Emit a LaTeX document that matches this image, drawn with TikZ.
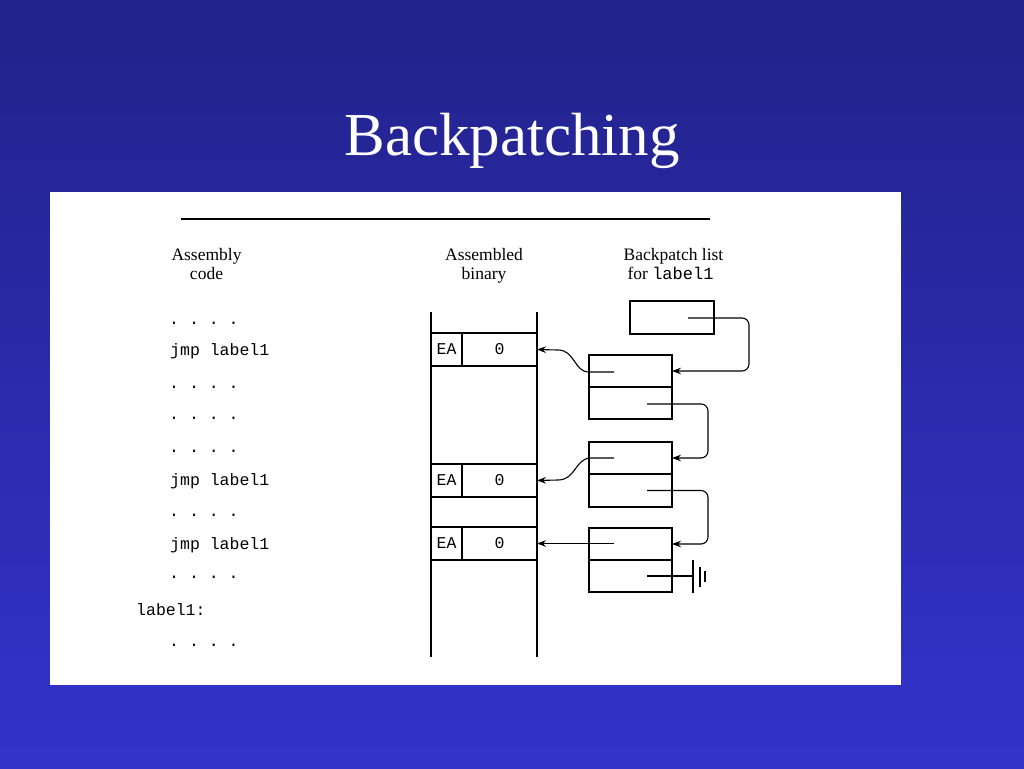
\documentclass[tikz,border=0pt]{standalone}
\usepackage{fontspec}
\setmainfont{Liberation Serif}
\setmonofont{Liberation Mono}
\usetikzlibrary{arrows.meta}
\definecolor{bgtop}{RGB}{34,34,138}
\definecolor{bgbot}{RGB}{51,51,204}
\begin{document}
\begin{tikzpicture}[x=1pt,y=-1pt,
  ln/.style={line width=1.1pt, draw=black},
  cell/.style={draw, line width=1.1pt, minimum width=83pt, minimum height=32pt, inner sep=0pt, outer sep=0pt, anchor=north west, font=\fontsize{16.5}{18}\ttfamily},
  code/.style={font=\fontsize{16.5}{18}\ttfamily, anchor=base west, inner sep=0pt},
  hdr/.style={font=\fontsize{17.5}{20}\selectfont, anchor=base, inner sep=0pt},
  ptr/.style={ln, -{Stealth[length=9pt,width=6.5pt]}},
]
% background
\useasboundingbox (0,0) rectangle (1024,768);
\shade[top color=bgtop, bottom color=bgbot] (0,0) rectangle (1024,768);
\fill[white] (50,192) rectangle (901,685);
% title
\node[font=\fontsize{61}{64}\selectfont, text=white, anchor=base, inner sep=0pt] (title) at (512,155) {Backpatching};
% top rule
\coordinate (r1) at (181,219);
\coordinate (r2) at (710,219);
\draw[line width=1.4pt] (r1) -- (r2);
% headers
\node[hdr] (h1a) at (206.5,260) {Assembly};
\node[hdr] (h1b) at (206.5,279) {code};
\node[hdr] (h2a) at (484,260) {Assembled};
\node[hdr] (h2b) at (484,279) {binary};
\node[hdr] (h3a) at (673.5,260) {Backpatch list};
\node[hdr] (h3b) at (670.5,279) {for {\fontsize{17}{20}\ttfamily label1}};
% assembly code
\node[code] (c1) at (169,324) {. . . .};
\node[code] (c2) at (170,355) {jmp label1};
\node[code] (c3) at (169,388) {. . . .};
\node[code] (c4) at (169,419) {. . . .};
\node[code] (c5) at (169,452) {. . . .};
\node[code] (c6) at (170,485) {jmp label1};
\node[code] (c7) at (169,516) {. . . .};
\node[code] (c8) at (170,549) {jmp label1};
\node[code] (c9) at (169,578) {. . . .};
\node[code] (c10) at (136,615) {label1:};
\node[code] (c11) at (169,646) {. . . .};
% binary column
\coordinate (bl1) at (431,312);
\coordinate (bl2) at (431,657);
\coordinate (br1) at (537,312);
\coordinate (br2) at (537,657);
\draw[ln] (bl1) -- (bl2);
\draw[ln] (br1) -- (br2);
\node[cell, minimum width=31pt, minimum height=33pt] (ea1) at (431,333) {EA};
\node[cell, minimum width=75pt, minimum height=33pt] (z1) at (462,333) {0};
\node[cell, minimum width=31pt, minimum height=33pt] (ea2) at (431,464) {EA};
\node[cell, minimum width=75pt, minimum height=33pt] (z2) at (462,464) {0};
\node[cell, minimum width=31pt, minimum height=33pt] (ea3) at (431,527) {EA};
\node[cell, minimum width=75pt, minimum height=33pt] (z3) at (462,527) {0};
% backpatch list
\node[cell, minimum width=84pt, minimum height=33pt] (head) at (630,301) {};
\node[cell] (n1a) at (589,355) {};
\node[cell] (n1b) at (589,387) {};
\node[cell] (n2a) at (589,442) {};
\node[cell, minimum height=33pt] (n2b) at (589,474) {};
\node[cell] (n3a) at (589,528) {};
\node[cell] (n3b) at (589,560) {};
% pointer origins
\coordinate (p0) at (688,318);
\coordinate (p1a) at (614,372);
\coordinate (p1b) at (647,404);
\coordinate (p2a) at (614,458);
\coordinate (p2b) at (647,490.5);
\coordinate (p3a) at (614,543.5);
\coordinate (p3b) at (647,576);
% list links
\draw[ptr, rounded corners=7pt] (p0) -- (749,318) -- (749,371) -- (n1a.east);
\draw[ptr, rounded corners=7pt] (p1b) -- (708,404) -- (708,458) -- (n2a.east);
\draw[ptr, rounded corners=7pt] (p2b) -- (708,490.5) -- (708,544) -- (n3a.east);
% links to binary
\draw[ptr] (p1a) -- (589,372) .. controls (574,372) and (575,350) .. (558,350) -- (z1.east);
\draw[ptr] (p2a) -- (591,458) .. controls (575,458) and (576,480) .. (558,480) -- (z2.east);
\draw[ptr] (p3a) -- (z3.east);
% ground
\coordinate (g0) at (693,576);
\coordinate (g1t) at (693,560);
\coordinate (g1b) at (693,593);
\coordinate (g2t) at (700,567);
\coordinate (g2b) at (700,587);
\coordinate (g3t) at (705,571);
\coordinate (g3b) at (705,582);
\draw[ln] (p3b) -- (g0);
\draw[ln] (g1t) -- (g1b);
\draw[ln] (g2t) -- (g2b);
\draw[ln] (g3t) -- (g3b);
\end{tikzpicture}
\end{document}
